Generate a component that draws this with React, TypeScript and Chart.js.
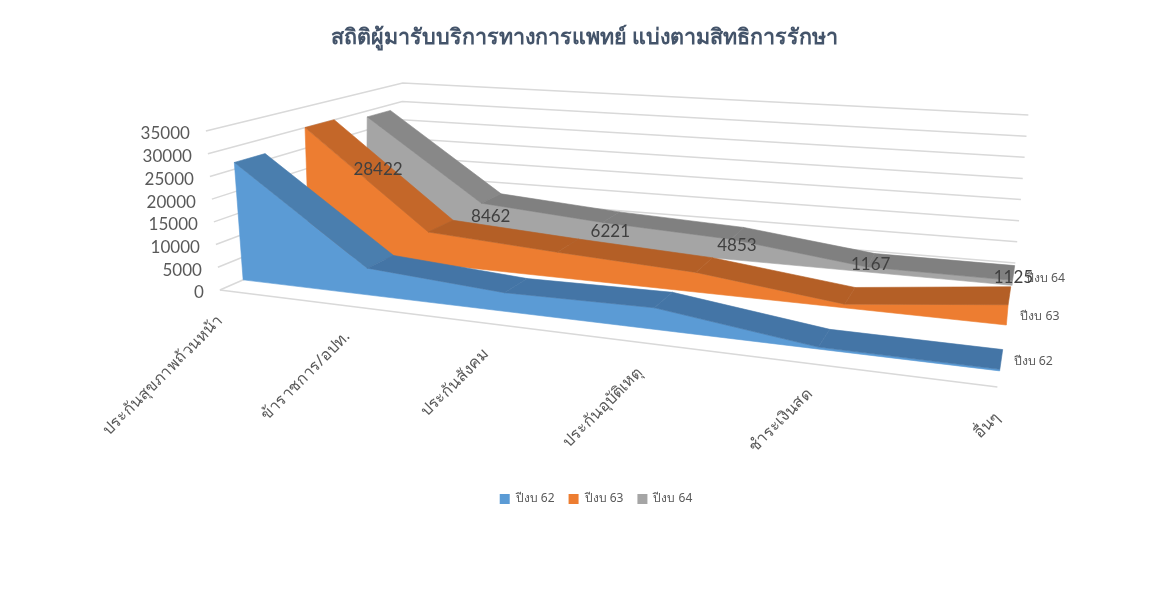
import React, { useEffect, useRef } from "react";
import { Chart, registerables } from "chart.js";

Chart.register(...registerables);

const title = "สถิติผู้มารับบริการทางการแพทย์ แบ่งตามสิทธิการรักษา";
const categories = ["ประกันสุขภาพถ้วนหน้า", "ข้าราชการ/อปท.", "ประกันสังคม", "ประกันอุบัติเหตุ", "ชำระเงินสด", "อื่นๆ"];
const seriesNames = ["ปีงบ 62", "ปีงบ 63", "ปีงบ 64"];
const fy62 = [26500, 5900, 4000, 4500, 400, 300];
const fy63 = [30000, 7500, 5800, 4400, 800, 4300];
const fy64 = [28422, 8462, 6221, 4853, 1167, 1125];
const valueTicks = [0, 5000, 10000, 15000, 20000, 25000, 30000, 35000];
const VMAX = 35000;

const seriesValues = [fy62, fy63, fy64];
const seriesDepth = [[0.13, 0.29], [0.5, 0.65], [0.82, 0.94]];
const faceColors = ["#5B9BD5", "#ED7D31", "#A5A5A5"];
const topColors = [["#4A7EAE", "#4475A6"], ["#C46729", "#B45F26"], ["#888888", "#808080"]];

const box = {
  A: [220, 290], B: [998, 387], C: [399, 212], D: [1016, 263],
  E: [206, 131], F: [1014, 205], G: [403, 83], H: [1029, 115],
};
const lerp = (a: number, b: number, t: number) => a + (b - a) * t;
function project(catPos: number, value: number, w: number) {
  const K = lerp(1.28, 1.14, w);
  const u = catPos / (catPos + K * (1 - catPos));
  const v = value / VMAX;
  const mix = (p: number[], q: number[], r: number[], s: number[], i: number) =>
    lerp(lerp(p[i], q[i], u), lerp(r[i], s[i], u), w);
  const f = [0, 1].map((i) => mix(box.A, box.B, box.C, box.D, i));
  const t = [0, 1].map((i) => mix(box.E, box.F, box.G, box.H, i));
  return { x: lerp(f[0], t[0], v), y: lerp(f[1], t[1], v) };
}
const catPos = (i: number) => i / (categories.length - 1);

function buildDatasets() {
  const out: any[] = [];
  const line = (data: any[]) => ({
    type: "scatter", data, showLine: true, pointRadius: 0, borderColor: "#D9D9D9", borderWidth: 1.5, clip: false,
  });
  const poly = (data: any[], color: string, label?: string) => ({
    type: "scatter", data, showLine: false, pointRadius: 0, borderColor: color, backgroundColor: color,
    borderWidth: 0, polygon: color, label, clip: false,
  });
  // walls and floor
  valueTicks.forEach((t) => {
    out.push(line([project(0, t, 0), project(0, t, 1), project(1, t, 1)]));
  });
  out.push(line([project(0, 0, 0), project(1, 0, 0)]));
  // back to front
  for (let s = 2; s >= 0; s--) {
    const vals = seriesValues[s];
    const [w0, w1] = seriesDepth[s];
    const front = vals.map((v, i) => project(catPos(i), v, w0));
    out.push(poly([project(0, 0, w0), ...front, project(1, 0, w0)], faceColors[s], seriesNames[s]));
    for (let i = 0; i < vals.length - 1; i++) {
      out.push(
        poly(
          [
            project(catPos(i), vals[i], w0),
            project(catPos(i + 1), vals[i + 1], w0),
            project(catPos(i + 1), vals[i + 1], w1),
            project(catPos(i), vals[i], w1),
          ],
          topColors[s][i === 0 ? 0 : 1]
        )
      );
    }
  }
  // draw order: chart.js paints the highest "order" first
  const n = out.length;
  out.forEach((d, i) => (d.order = n - i));
  return out;
}

const polygonPlugin = {
  id: "polygons",
  beforeDatasetDraw(chart: any, args: any) {
    const ds = chart.data.datasets[args.index];
    if (!ds.polygon) return;
    const ctx = chart.ctx;
    const pts = args.meta.data;
    ctx.save();
    ctx.fillStyle = ds.polygon;
    ctx.strokeStyle = ds.polygon;
    ctx.lineWidth = 0.6;
    ctx.lineJoin = "round";
    ctx.beginPath();
    pts.forEach((p: any, i: number) => (i ? ctx.lineTo(p.x, p.y) : ctx.moveTo(p.x, p.y)));
    ctx.closePath();
    ctx.fill();
    ctx.stroke();
    ctx.restore();
  },
};

const FONT = "Lato, 'Noto Sans', sans-serif";
const textPlugin = {
  id: "axisText",
  afterLayout(chart: any) {
    if (chart.titleBlock) chart.titleBlock.left = 0;
  },
  afterDatasetsDraw(chart: any) {
    const { ctx, scales } = chart;
    const px = (p: { x: number; y: number }) => [scales.x.getPixelForValue(p.x), scales.y.getPixelForValue(p.y)];
    ctx.save();
    // value axis
    ctx.fillStyle = "#595959";
    ctx.font = `17px ${FONT}`;
    ctx.textAlign = "right";
    ctx.textBaseline = "middle";
    valueTicks.forEach((t) => {
      const [x, y] = px(project(0, t, 0));
      ctx.fillText(String(t), x - 16, y + 3);
    });
    // category axis
    ctx.font = "16px 'Noto Sans', sans-serif";
    ctx.fillStyle = "#595959";
    categories.forEach((c, i) => {
      const [x, y] = px(project(catPos(i), 0, 0));
      ctx.save();
      ctx.translate(x + 0.5, y + 28);
      ctx.rotate(-Math.PI / 4);
      ctx.textAlign = "right";
      ctx.fillText(c, 0, 0);
      ctx.restore();
    });
    // series axis
    ctx.font = "12.3px 'Noto Sans', sans-serif";
    ctx.textAlign = "left";
    seriesNames.forEach((n, s) => {
      const w = (seriesDepth[s][0] + seriesDepth[s][1]) / 2;
      const [x, y] = px(project(1, 0, w));
      ctx.fillText(n, x + 12.5, y + 1);
    });
    // data labels of the rear series
    ctx.font = `17px ${FONT}`;
    ctx.fillStyle = "#404040";
    ctx.textAlign = "center";
    const w = (seriesDepth[2][0] + seriesDepth[2][1]) / 2;
    fy64.forEach((v, i) => {
      const [x, y] = px(project(catPos(i), v / 2, w));
      ctx.fillText(String(v), x, y + 2);
    });
    ctx.restore();
  },
};

export default function App() {
  const ref = useRef<HTMLCanvasElement>(null);
  useEffect(() => {
    const chart: any = new Chart(ref.current!, {
      type: "scatter",
      data: { datasets: buildDatasets() },
      plugins: [polygonPlugin, textPlugin],
      options: {
        animation: false,
        responsive: false,
        devicePixelRatio: 1,
        layout: { padding: { left: 23, bottom: 90, top: 25 } },
        scales: {
          x: { type: "linear", display: false, min: 0, max: 1169 },
          y: { type: "linear", display: false, reverse: true, min: 0, max: 605 },
        },
        plugins: {
          tooltip: { enabled: false },
          title: {
            display: true,
            text: title,
            color: "#44546A",
            font: { size: 21.5, weight: "bold", family: "'Noto Sans', sans-serif" },
            padding: { top: 0, bottom: 10 },
          },
          legend: {
            display: true,
            position: "bottom",
            labels: {
              boxWidth: 10,
              boxHeight: 10,
              padding: 14,
              color: "#595959",
              font: { size: 12, family: "'Noto Sans', sans-serif" },
              filter: (item: any) => !!item.text,
            },
          },
        },
      } as any,
    });
    // make the hidden linear scales coincide with canvas pixels
    const a = chart.chartArea;
    chart.options.scales.x.min = a.left;
    chart.options.scales.x.max = a.right;
    chart.options.scales.y.min = a.top;
    chart.options.scales.y.max = a.bottom;
    chart.update();
    return () => chart.destroy();
  }, []);
  return (
    <div style={{ position: "absolute", left: 0, top: 0, width: 1169, height: 605 }}>
      <canvas ref={ref} width={1169} height={605} style={{ display: "block" }} />
    </div>
  );
}
